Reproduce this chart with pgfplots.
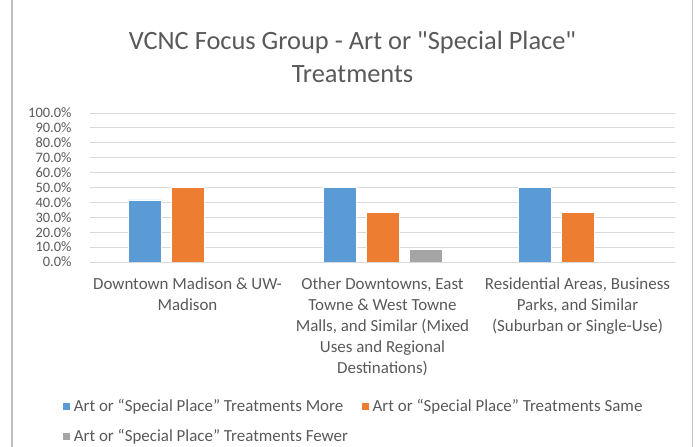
\documentclass[border=0pt]{standalone}
\usepackage{fontspec}
\setmainfont{Carlito}
\usepackage{pgfplots}
\pgfplotsset{compat=1.18}
\definecolor{cblue}{HTML}{5B9BD5}
\definecolor{corange}{HTML}{ED7D31}
\definecolor{cgray}{HTML}{A5A5A5}
\definecolor{gridc}{HTML}{D9D9D9}
\definecolor{txt}{HTML}{595959}
\definecolor{border}{HTML}{BFBFBF}
\begin{document}
\begin{tikzpicture}[x=1bp,y=1bp]
\path[use as bounding box] (0,0) rectangle (699,447);
\draw[border, line width=1.3bp] (12,-5) -- (12,452);
\draw[border, line width=1.3bp] (692.5,-5) -- (692.5,452);
\node[txt, align=center, font=\fontsize{26.5}{33}\selectfont] at (352.5,390) {VCNC Focus Group - Art or \textquotedbl Special Place\textquotedbl\\Treatments};
\begin{axis}[
  at={(90bp,185bp)}, anchor=south west,
  width=585bp, height=149bp, scale only axis,
  ybar=10bp, bar width=33bp,
  xmin=-0.5, xmax=2.5, ymin=0, ymax=100,
  axis line style={draw=none},
  xtick={0,1,2},
  xticklabels={{Downtown Madison \& UW-\\Madison},
    {Other Downtowns, East\\Towne \& West Towne\\Malls, and Similar (Mixed\\Uses and Regional\\Destinations)},
    {Residential Areas, Business\\Parks, and Similar\\(Suburban or Single-Use)}},
  xticklabel style={align=center, text=txt, font=\fontsize{17}{21.2}\selectfont, yshift=-12bp},
  ytick={0,10,...,100},
  yticklabels={0.0\%,10.0\%,20.0\%,30.0\%,40.0\%,50.0\%,60.0\%,70.0\%,80.0\%,90.0\%,100.0\%},
  yticklabel style={text=txt, font=\fontsize{14.5}{18}\selectfont, xshift=-15bp},
  major tick length=0pt,
  ymajorgrids, grid style={gridc, line width=0.9bp},
  legend columns=2,
  legend style={at={(-0.048,-0.905)}, anchor=north west, draw=none, fill=none,
    font=\fontsize{17}{20}\selectfont, text=txt,
    /tikz/every even column/.append style={column sep=10bp},
    row sep=13bp, inner sep=0pt,
    nodes={inner xsep=3bp}},
  legend cell align=left,
  legend image code/.code={\fill[#1] (0bp,-4bp) rectangle (8bp,4bp);},
]
\addplot[draw=white, line width=0.7bp, fill=cblue] coordinates {(0,41.67) (1,50) (2,50)};
\addplot[draw=white, line width=0.7bp, fill=corange] coordinates {(0,50) (1,33.33) (2,33.33)};
\addplot[draw=white, line width=0.7bp, fill=cgray] coordinates {(1,8.33)};
\legend{Art or “Special Place” Treatments More, Art or “Special Place” Treatments Same, Art or “Special Place” Treatments Fewer}
\end{axis}
\end{tikzpicture}
\end{document}
